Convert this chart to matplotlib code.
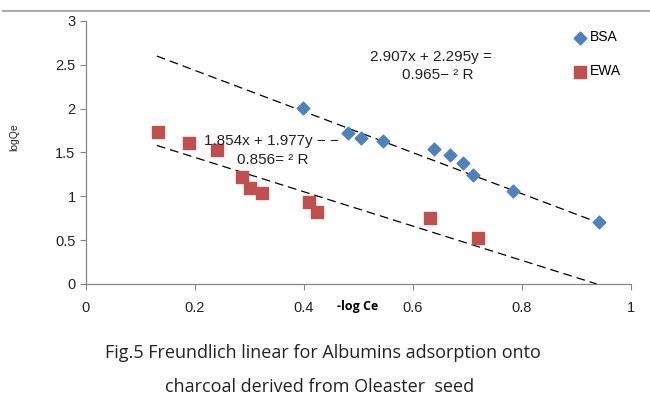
import matplotlib.pyplot as plt
from matplotlib.lines import Line2D

# data
bsa_x = [0.398, 0.481, 0.505, 0.545, 0.638, 0.668, 0.692, 0.710, 0.783, 0.941]
bsa_y = [2.01, 1.72, 1.66, 1.63, 1.54, 1.47, 1.38, 1.24, 1.06, 0.71]
ewa_x = [0.132, 0.189, 0.240, 0.286, 0.301, 0.323, 0.409, 0.424, 0.631, 0.719]
ewa_y = [1.73, 1.61, 1.53, 1.22, 1.09, 1.04, 0.935, 0.82, 0.75, 0.52]

bsa_trend_x = [0.13, 0.94]
bsa_trend_y = [2.60, 0.70]
ewa_trend_x = [0.13, 0.937]
ewa_trend_y = [1.58, 0.0]

x_ticks = [0, 0.2, 0.4, 0.6, 0.8, 1]
y_ticks = [0, 0.5, 1, 1.5, 2, 2.5, 3]

plt.rcParams["font.family"] = ["Liberation Sans", "DejaVu Sans"]

fig = plt.figure(figsize=(6.5, 4.08), dpi=100)
ax = fig.add_axes([0.1323, 0.304, 0.8385, 0.6446])

ax.plot(bsa_trend_x, bsa_trend_y, color="black", lw=0.9, ls=(0, (7, 4)))
ax.plot(ewa_trend_x, ewa_trend_y, color="black", lw=0.9, ls=(0, (7, 4)))
ax.scatter(bsa_x, bsa_y, marker="D", s=42, color="#4F81BD", label="BSA", zorder=3)
ax.scatter(ewa_x, ewa_y, marker="s", s=68, color="#C0504D", label="EWA", zorder=3)

ax.set_xlim(0, 1)
ax.set_ylim(0, 3)
ax.set_xticks(x_ticks)
ax.set_yticks(y_ticks)
ax.set_xticklabels([f"{t:g}" for t in x_ticks])
ax.set_yticklabels([f"{t:g}" for t in y_ticks])
for s in ["top", "right"]:
    ax.spines[s].set_visible(False)
for s in ["left", "bottom"]:
    ax.spines[s].set_color("#868686")
    ax.spines[s].set_linewidth(0.9)
ax.tick_params(colors="#868686", labelcolor="#222222", labelsize=10.5, length=4)
ax.tick_params(axis="x", pad=8)

ax.text(0.46, -0.06, "-log Ce", transform=ax.transAxes, fontsize=9,
        fontweight="bold", family="Open Sans", ha="left", va="top")
ax.set_ylabel("logQe", fontsize=7.5, color="#222222")
ax.yaxis.set_label_coords(-0.123, 0.56)

ax.text(0.633, 2.59, "2.907x + 2.295y =", fontsize=11, ha="center", va="center", color="#222222")
ax.text(0.646, 2.38, "0.965\u2212 \u00b2 R", fontsize=11, ha="center", va="center", color="#222222")
ax.text(0.341, 1.63, "1.854x + 1.977y \u2212 \u2212", fontsize=11, ha="center", va="center", color="#222222")
ax.text(0.343, 1.41, "0.856= \u00b2 R", fontsize=11, ha="center", va="center", color="#222222")

fig.legend(loc="upper left", bbox_to_anchor=(0.882, 0.926), frameon=False,
           fontsize=10, labelspacing=1.45, handletextpad=0.2,
           handlelength=1.0, borderpad=0, borderaxespad=0)

fig.add_artist(Line2D([0.005, 1.0], [0.974, 0.974], color="#9a9a9a", lw=1.2))

fig.text(0.497, 0.135, "Fig.5 Freundlich linear for Albumins adsorption onto",
         fontsize=13, family="Open Sans", ha="center", va="center", color="#222222")
fig.text(0.491, 0.051, "charcoal derived from Oleaster  seed",
         fontsize=13, family="Open Sans", ha="center", va="center", color="#222222")

fig.savefig("out.png", dpi=100)
